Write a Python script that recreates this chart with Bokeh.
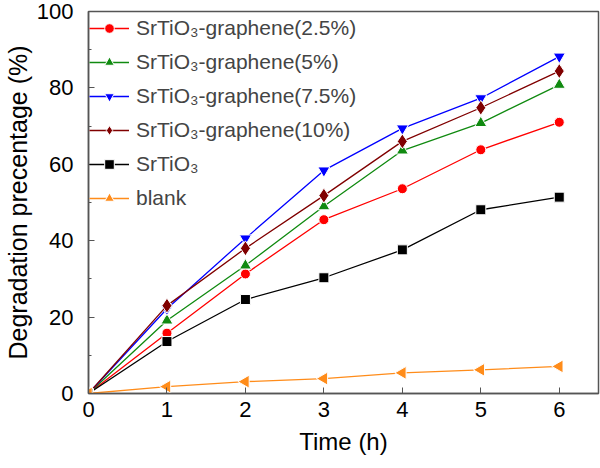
import math
from bokeh.plotting import figure
from bokeh.models import Legend, LegendItem, Range1d, FixedTicker
from bokeh.embed import file_html
from bokeh.resources import INLINE

# ---- data ----
time_h = [0, 1, 2, 3, 4, 5, 6]
g25 = [0, 15.8, 31.3, 45.5, 53.6, 63.8, 71.0]
g5 = [0, 19.1, 33.5, 49.0, 63.6, 70.8, 80.8]
g75 = [0, 22.2, 40.6, 58.4, 69.4, 77.3, 88.2]
g10 = [0, 23.0, 38.0, 51.8, 66.0, 74.8, 84.4]
srtio3 = [0, 13.6, 24.6, 30.3, 37.6, 48.1, 51.4]
blank = [0, 1.8, 3.1, 3.9, 5.4, 6.2, 7.1]

labels = ["SrTiO\u2083-graphene(2.5%)", "SrTiO\u2083-graphene(5%)",
          "SrTiO\u2083-graphene(7.5%)", "SrTiO\u2083-graphene(10%)",
          "SrTiO\u2083", "blank"]
x_ticks = [0, 1, 2, 3, 4, 5, 6]
y_ticks = [0, 20, 40, 60, 80, 100]
y_minor = [10, 30, 50, 70, 90]

FONT = "Liberation Sans"

p = figure(width=600, height=468, output_backend="svg", toolbar_location=None,
           x_range=Range1d(0, 6.5), y_range=Range1d(0, 100),
           min_border_left=83, min_border_right=2, min_border_top=11,
           min_border_bottom=75)
p.grid.visible = False
p.outline_line_color = "#555555"
p.outline_line_width = 1.5
p.background_fill_color = "white"

for ax in (p.xaxis[0], p.yaxis[0]):
    ax.axis_line_color = "#555555"
    ax.axis_line_width = 1.5
    ax.major_tick_line_color = "#555555"
    ax.minor_tick_line_color = "#555555"
    ax.major_tick_in = 6
    ax.major_tick_out = 0
    ax.minor_tick_in = 3
    ax.minor_tick_out = 0
    ax.major_label_text_font = FONT
    ax.major_label_text_font_size = "22px"
    ax.major_label_text_color = "black"
    ax.axis_label_text_font = FONT
    ax.axis_label_text_font_style = "normal"
    ax.axis_label_text_color = "black"

p.xaxis.axis_label_text_font_size = "24px"
p.yaxis.axis_label_text_font_size = "25px"
p.xaxis.ticker = FixedTicker(ticks=x_ticks)
p.yaxis.ticker = FixedTicker(ticks=y_ticks, minor_ticks=y_minor)
p.xaxis.axis_label = "Time (h)"
p.yaxis.axis_label = "Degradation precentage (%)"
p.xaxis.major_label_standoff = 8
p.yaxis.major_label_standoff = 15
p.xaxis.axis_label_standoff = 8
p.yaxis.axis_label_standoff = 2

series = [
    (g25, "#ff0000", "circle", 10, 0),
    (g5, "#108a10", "triangle", 12, 0),
    (g75, "#0000ff", "inverted_triangle", 12, 0),
    (g10, "#800000", "diamond", 15, 0),
    (srtio3, "#000000", "square", 10, 0),
    (blank, "#ff8c1a", "triangle", 13, math.pi / 2),
]

items = []
for (ys, col, mk, sz, ang), lab in zip(series, labels):
    ln = p.line(time_h, ys, line_color=col, line_width=1.3)
    sc = p.scatter(time_h, ys, marker=mk, size=sz, angle=ang,
                   fill_color=col, line_color="white", line_width=1)
    items.append(LegendItem(label=lab, renderers=[ln, sc]))

legend = Legend(items=items, location=(1, 183))
legend.label_text_font = FONT
legend.label_text_font_size = "21px"
legend.glyph_width = 40
legend.glyph_height = 24
legend.label_height = 24
legend.label_standoff = 7
legend.spacing = 10
legend.padding = 0
legend.margin = 0
legend.border_line_alpha = 0
legend.background_fill_alpha = 0
p.add_layout(legend)

open("out.html", "w").write(file_html(p, INLINE))
